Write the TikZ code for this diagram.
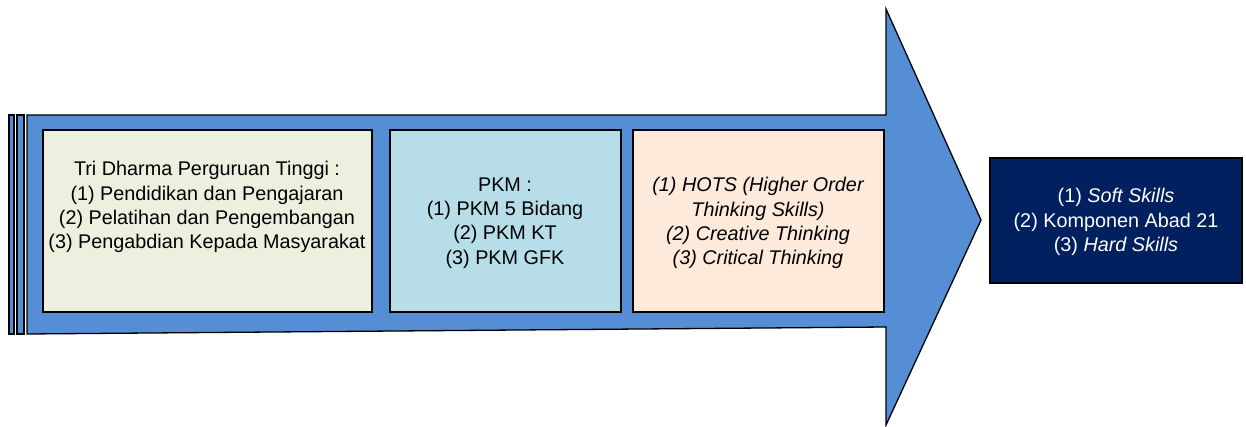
\documentclass[tikz,border=0pt]{standalone}
\usepackage{fontspec}
\setmainfont{Liberation Sans}
\definecolor{arrowblue}{HTML}{558ED5}
\definecolor{boxgreen}{HTML}{EBF1DE}
\definecolor{boxblue}{HTML}{B7DDE8}
\definecolor{boxpeach}{HTML}{FDEADA}
\definecolor{boxnavy}{HTML}{002060}
\begin{document}
\begin{tikzpicture}[x=1pt,y=-1pt,
  outline/.style={draw=black,line width=1.3pt,line join=miter},
  panel/.style={outline},
  txt/.style={align=center,font=\fontsize{19.8}{24.2}\selectfont,inner sep=0pt}]
\useasboundingbox (0,0) rectangle (1246,427);
% stripes
\draw[outline,fill=arrowblue] (9,115) rectangle (14,334);
\draw[outline,fill=arrowblue] (17,115) rectangle (24,334);
% arrow
\draw[outline,fill=arrowblue] (27,115) -- (886,115) -- (886,9) -- (981,220) -- (886,425) -- (886,327) -- (27,334) -- cycle;
% boxes
\draw[panel,fill=boxgreen] (43,130) rectangle (372,312);
\draw[panel,fill=boxblue] (390,130) rectangle (621,312);
\draw[panel,fill=boxpeach] (633,130) rectangle (884,312);
\draw[panel,fill=boxnavy] (990,158) rectangle (1242,283);
% texts
\node[txt] (t1) at (207,207) {Tri Dharma Perguruan Tinggi :\\(1) Pendidikan dan Pengajaran\\(2) Pelatihan dan Pengembangan\\(3) Pengabdian Kepada Masyarakat};
\node[txt] (t2) at (505,223) {PKM :\\(1) PKM 5 Bidang\\(2) PKM KT\\(3) PKM GFK};
\node[txt,font=\fontsize{19.8}{24.2}\selectfont\itshape] (t3) at (758,223) {(1) HOTS (Higher Order\\Thinking Skills)\\(2) Creative Thinking\\(3) Critical Thinking};
\node[txt,text=white] (t4) at (1116,222) {(1) \textit{Soft Skills}\\(2) Komponen Abad 21\\(3) \textit{Hard Skills}};
\end{tikzpicture}
\end{document}
